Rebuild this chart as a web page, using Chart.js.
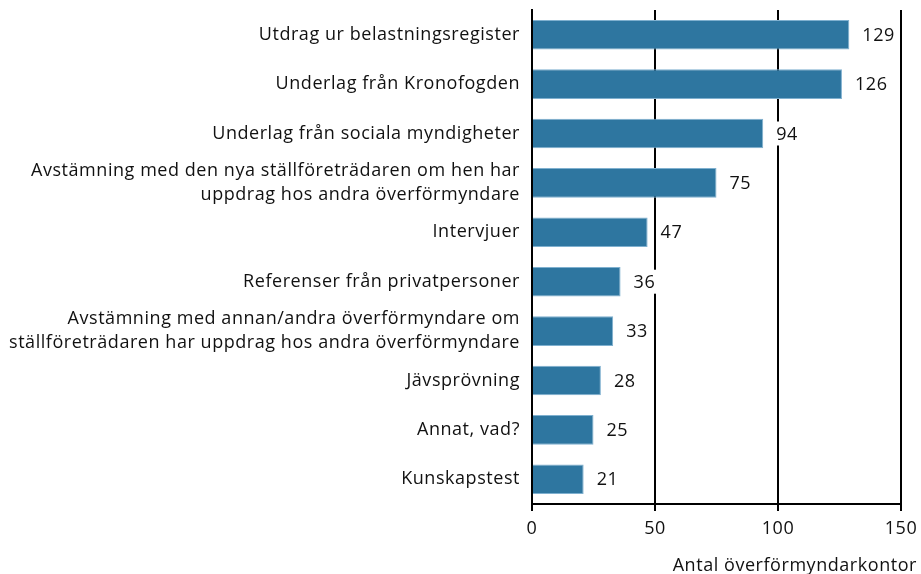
<!DOCTYPE html>
<html>
<head>
<meta charset="utf-8">
<script src="https://cdn.jsdelivr.net/npm/chart.js@4/dist/chart.umd.min.js"></script>
<style>
html,body{margin:0;padding:0;background:#fff;}
#wrap{width:921px;height:574px;position:relative;}
</style>
</head>
<body>
<div id="wrap"><canvas id="c" width="921" height="574"></canvas></div>
<script>
const categories = [
  "Utdrag ur belastningsregister",
  "Underlag från Kronofogden",
  "Underlag från sociala myndigheter",
  ["Avstämning med den nya ställföreträdaren om hen har", "uppdrag hos andra överförmyndare"],
  "Intervjuer",
  "Referenser från privatpersoner",
  ["Avstämning med annan/andra överförmyndare om", "ställföreträdaren har uppdrag hos andra överförmyndare"],
  "Jävsprövning",
  "Annat, vad?",
  "Kunskapstest"
];
const values = [129, 126, 94, 75, 47, 36, 33, 28, 25, 21];
const xTicks = [0, 50, 100, 150];
const xTitle = "Antal överförmyndarkontor";

const FONT = "'Open Sans'";

const spacing = {
  id: 'spacing',
  beforeDraw(chart) { chart.ctx.letterSpacing = '0.55px'; }
};

const valueLabels = {
  id: 'valueLabels',
  afterDatasetsDraw(chart) {
    const ctx = chart.ctx;
    const meta = chart.getDatasetMeta(0);
    ctx.save();
    ctx.font = "18px " + FONT;
    ctx.textBaseline = 'middle';
    ctx.textAlign = 'left';
    meta.data.forEach((bar, i) => {
      const txt = String(values[i]);
      const w = ctx.measureText(txt).width;
      const x = bar.x + 13;
      ctx.fillStyle = '#fff';
      ctx.fillRect(x - 4, bar.y - 12, w + 8, 24);
      ctx.fillStyle = '#111';
      ctx.fillText(txt, x, bar.y + 1);
    });
    ctx.restore();
  }
};

const axisTitle = {
  id: 'axisTitle',
  afterDraw(chart) {
    const ctx = chart.ctx;
    const xs = chart.scales.x;
    ctx.save();
    ctx.font = "18px " + FONT;
    ctx.textAlign = 'right';
    ctx.textBaseline = 'middle';
    ctx.fillStyle = '#111';
    ctx.fillText(xTitle, xs.right + 16, xs.bottom - 8);
    ctx.restore();
  }
};

new Chart(document.getElementById('c'), {
  type: 'bar',
  data: {
    labels: categories,
    datasets: [{
      data: values,
      backgroundColor: '#2e76a0',
      borderColor: '#7fb0cf',
      borderWidth: 1,
      barPercentage: 0.6,
      categoryPercentage: 1.0
    }]
  },
  options: {
    indexAxis: 'y',
    responsive: false,
    animation: false,
    layout: { padding: { top: 10, right: 20, bottom: 0, left: 0 } },
    plugins: { legend: { display: false }, tooltip: { enabled: false } },
    scales: {
      x: {
        min: 0, max: 150,
        afterBuildTicks: s => { s.ticks = xTicks.map(v => ({ value: v })); },
        afterFit: s => { s.height = 70; s.paddingLeft = 0; s.paddingRight = 0; },
        grid: { color: '#000', lineWidth: 2, drawTicks: true, tickLength: 7, tickColor: '#000' },
        border: { display: true, color: '#000', width: 2 },
        ticks: { color: '#111', font: { family: "Open Sans", size: 18 }, padding: 7, maxRotation: 0 },
        title: { display: false }
      },
      y: {
        afterFit: s => { s.width = 532; s.paddingTop = 0; s.paddingBottom = 0; },
        grid: { display: false, drawTicks: false },
        border: { display: true, color: '#000', width: 2 },
        ticks: { color: '#111', font: { family: "Open Sans", size: 18, lineHeight: 1.32 }, padding: 12, autoSkip: false }
      }
    }
  },
  plugins: [spacing, valueLabels, axisTitle]
});
</script>
</body>
</html>
